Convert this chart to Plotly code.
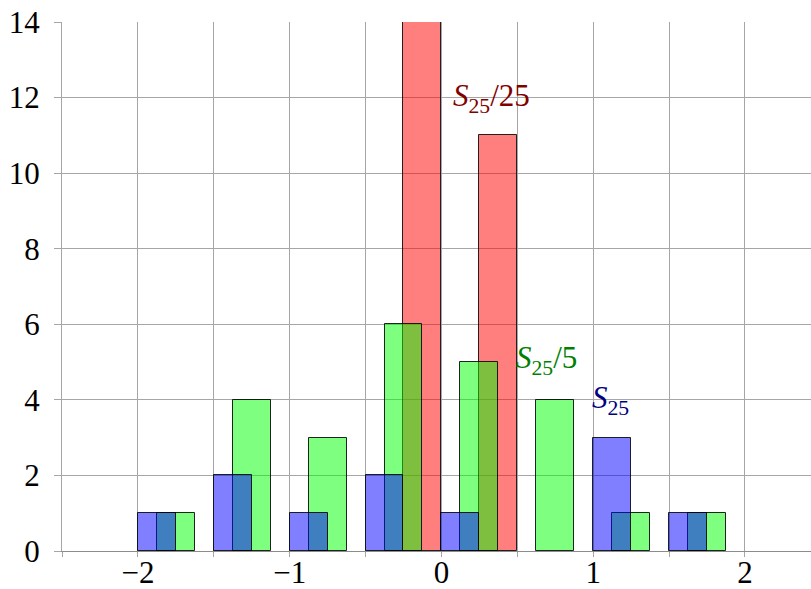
import plotly.graph_objects as go

# Histogram bins (left edge of each 0.5-wide bin)
bins = [-2.0, -1.5, -1.0, -0.5, 0.0, 0.5, 1.0, 1.5]

# Counts per bin for each series (None = empty bin)
s25 = [1, 2, 1, 2, 1, None, 3, 1]
s25_5 = [1, 4, 3, 6, 5, 4, 1, 1]
s25_25 = [None, None, None, 14, 11, None, None, None]

x_ticks = [-2, -1, 0, 1, 2]
y_ticks = [0, 2, 4, 6, 8, 10, 12, 14]

BAR_W = 0.25
SERIF = "Times New Roman"


def centers(offset):
    return [b + offset + BAR_W / 2 for b in bins]


fig = go.Figure()

# red drawn first, green over it, blue on top
series = [
    ("S25/25", s25_25, 0.25, "rgba(255,0,0,0.5)"),
    ("S25/5", s25_5, 0.125, "rgba(0,255,0,0.5)"),
    ("S25", s25, 0.0, "rgba(0,0,255,0.5)"),
]
for name, vals, off, col in series:
    fig.add_trace(go.Bar(
        x=centers(off), y=vals, width=BAR_W, name=name,
        marker=dict(color=col, line=dict(color="rgba(0,0,0,0.85)", width=1)),
        showlegend=False,
    ))

labels = [
    (0.08, 12.0, "<i>S</i><sub>25</sub>/25", "#800000"),
    (0.5, 5.05, "<i>S</i><sub>25</sub>/5", "#008000"),
    (1.0, 4.0, "<i>S</i><sub>25</sub>", "#000080"),
]
for lx, ly, txt, col in labels:
    fig.add_annotation(x=lx, y=ly, text=txt, showarrow=False,
                       xanchor="left", yanchor="middle", xshift=-3,
                       font=dict(family=SERIF, size=31, color=col))

grid_col = "#a6a6a6"
axis_col = "#8c8c8c"
fig.update_layout(
    width=811, height=589,
    margin=dict(l=62, r=0, t=22, b=38),
    paper_bgcolor="white", plot_bgcolor="white",
    barmode="overlay", bargap=0,
    font=dict(family=SERIF, size=31, color="black"),
    xaxis=dict(
        range=[-2.5, 2.435], tickvals=x_ticks, automargin=False,
        showgrid=True, gridcolor=grid_col, gridwidth=1,
        ticks="outside", ticklen=5, tickcolor=grid_col,
        ticklabelstandoff=-11,
        minor=dict(dtick=0.5, tick0=-2.5, showgrid=True, gridcolor=grid_col,
                   ticks="outside", ticklen=5, tickcolor=grid_col),
        zeroline=False, showline=True, linecolor=axis_col, linewidth=1,
        tickfont=dict(family=SERIF, size=31),
    ),
    yaxis=dict(
        range=[0, 14], tickvals=y_ticks, automargin=False,
        showgrid=True, gridcolor=grid_col, gridwidth=1,
        ticks="outside", ticklen=7, tickcolor=grid_col,
        ticklabelstandoff=8,
        zeroline=False, showline=True, linecolor=grid_col, linewidth=1,
        tickfont=dict(family=SERIF, size=31),
    ),
)

fig.write_html("out.html")
